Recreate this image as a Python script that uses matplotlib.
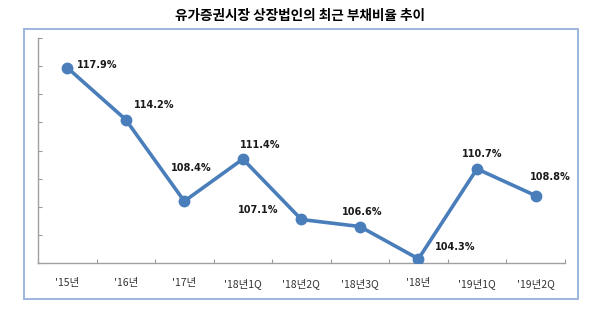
import matplotlib.pyplot as plt
from matplotlib.patches import Rectangle

plt.rcParams['font.family'] = ['Noto Sans CJK KR', 'DejaVu Sans']

# data
periods = ["'15년", "'16년", "'17년", "'18년1Q", "'18년2Q", "'18년3Q", "'18년", "'19년1Q", "'19년2Q"]
ratio = [117.9, 114.2, 108.4, 111.4, 107.1, 106.6, 104.3, 110.7, 108.8]
# label offsets from each point (pixels, right/up)
label_dx = [30, 28, 7, 17, -43, 2, 37, 5, 15]
label_dy = [3, 15, 33, 14, 9, 15, 12, 15, 19]

blue = "#4a7ebb"

fig = plt.figure(figsize=(6, 3.26), dpi=100)
fig.patch.set_facecolor("white")

# outer frame
fig.patches.append(Rectangle((0.04, 0.083), 0.923, 0.828, transform=fig.transFigure,
                             fill=False, edgecolor="#9bb7dc", linewidth=1.4))

fig.text(0.5, 0.952, "유가증권시장 상장법인의 최근 부채비율 추이", ha="center", va="center",
         fontsize=9.8, fontweight="bold")

ax = fig.add_axes([0.0633, 0.193, 0.878, 0.690])
x = list(range(len(periods)))
ax.plot(x, ratio, color=blue, linewidth=2.6, marker="o", markersize=7.5, zorder=5)

for xi, v, dx, dy in zip(x, ratio, label_dx, label_dy):
    ax.annotate("%.1f%%" % v, (xi, v), xytext=(dx * 0.72, dy * 0.72),
                textcoords="offset points", ha="center", va="center",
                fontsize=7, fontweight="bold", color="#1a1a1a",
                family=["DejaVu Sans"])

ax.set_xlim(-0.5, len(periods) - 0.5)
ax.set_ylim(104, 120)
ax.set_yticks(range(104, 121, 2))
ax.set_yticklabels([])
ax.set_xticks([i + 0.5 for i in range(-1, len(periods))])
ax.set_xticklabels([])
ax.set_xticks(x, minor=True)
ax.set_xticklabels(periods, minor=True, fontsize=7.5, color="#333333", fontweight="medium")
ax.tick_params(axis="x", which="minor", length=0, pad=11)
ax.tick_params(axis="x", which="major", direction="in", length=3, color="#999999")
ax.tick_params(axis="y", direction="in", length=3, color="#999999")

for s in ["top", "right"]:
    ax.spines[s].set_visible(False)
for s in ["left", "bottom"]:
    ax.spines[s].set_color("#a0a0a0")
    ax.spines[s].set_linewidth(1)

plt.savefig("out.png", dpi=100)
